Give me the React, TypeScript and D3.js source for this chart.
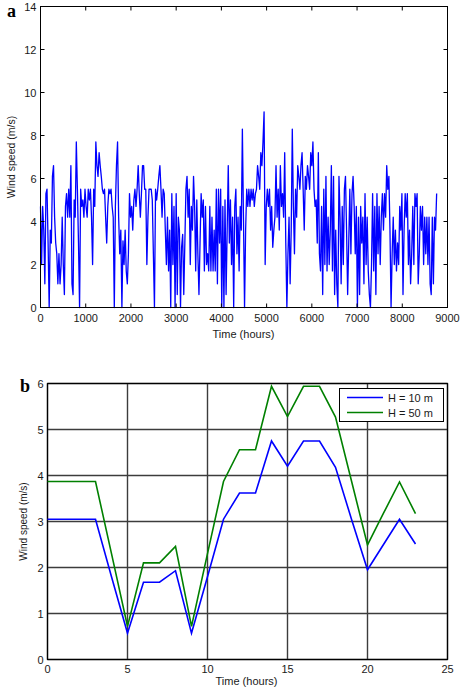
import React from "react";
import * as d3 from "d3";

// wind speed, one reading every 24 h over the year (m/s)
const windDaysA = [
  4.7, 2.0, 4.7, 3.6, 1.1, 5.3, 5.5, 3.0, 0, 3.6,
  3.0, 6.1, 6.6, 4.2, 3.0, 2.5, 1.1, 2.5, 1.1, 2.0,
  4.2, 2.0, 0.6, 4.7, 5.3, 4.2, 5.5, 4.2, 6.6, 1.1,
  0.6, 5.0, 4.2, 7.7, 5.5, 3.0, 0, 5.5, 4.7, 5.0,
  4.2, 5.5, 4.7, 4.2, 5.5, 5.0, 5.5, 4.2, 2.0, 5.5,
  4.7, 7.7, 6.6, 6.1, 7.2, 6.6, 6.1, 5.5, 5.3, 5.5,
  4.2, 3.0, 4.7, 5.5, 5.3, 5.5, 4.7, 4.2, 0, 4.7,
  6.6, 7.7, 4.2, 2.5, 3.6, 0, 3.1, 2.0, 3.6, 1.7,
  1.1, 2.5, 5.3, 4.2, 4.7, 3.6, 5.0, 5.5, 4.7, 5.5,
  6.6, 5.3, 4.2, 5.3, 6.6, 6.6, 5.5, 5.5, 2.0, 4.2,
  5.5, 5.5, 5.5, 5.0, 2.5, 0, 5.5, 5.0, 5.5, 6.1,
  6.6, 5.5, 4.2, 5.5, 5.3, 3.6, 2.0, 4.2, 1.7, 3.6,
  0, 5.3, 2.0, 4.7, 0, 5.3, 0.6, 4.2,
];
const windDaysB = [
  3.6, 0, 2.8, 3.4, 0.6, 3.0, 5.5, 6.1, 4.2, 5.5,
  2.0, 4.7, 3.6, 6.1, 4.7, 1.7, 5.0, 2.5, 0.6, 3.0,
  5.3, 4.2, 5.0, 1.7, 4.7, 2.0, 2.5, 1.7, 4.7, 1.7,
  4.2, 1.7, 3.6, 1.7, 5.5, 1.1, 5.5, 3.0, 5.5, 0,
  4.7, 0, 5.0, 0.6, 3.6, 6.6, 3.0, 5.0, 2.0, 4.2,
  0, 4.7, 5.5, 2.5, 4.2, 1.7, 4.7, 3.6, 8.3, 4.2,
  0, 3.6, 5.5, 4.7, 5.5, 4.7, 5.5, 5.0, 5.5, 4.7,
  5.3, 5.5, 6.6, 6.1, 5.5, 7.2, 6.6, 7.7, 9.1, 2.0,
  4.7, 5.5, 4.7, 5.5, 3.6, 4.7, 2.8, 3.6, 4.2, 6.6,
  4.2, 5.5, 3.6, 6.6, 4.7, 5.3, 4.2, 7.2, 3.0, 0,
  2.5, 4.2, 1.1, 3.6, 8.3, 4.7, 2.5, 5.5, 4.2, 6.6,
  6.1, 5.5, 6.6, 7.2, 5.5, 3.6, 6.1, 5.5, 6.6, 6.1,
  5.5, 7.2, 6.6, 7.7, 5.5,
];
const windDaysC = [
  4.7, 5.0, 3.0, 7.2, 2.5, 1.7, 4.7, 0.6, 5.5, 2.0,
  6.1, 1.7, 4.2, 2.0, 3.6, 6.6, 1.7, 6.1, 0.6, 3.6,
  1.1, 0, 6.1, 4.2, 1.1, 4.7, 2.0, 5.5, 6.1, 3.6,
  0.6, 3.0, 5.5, 2.5, 5.3, 6.1, 4.7, 2.5, 4.7, 0,
  4.2, 0.6, 4.7, 3.0, 4.2, 1.1, 5.3, 2.0, 4.2, 1.7,
  0.6, 0, 2.0, 5.3, 1.7, 4.7, 0.6, 5.3, 2.5, 4.7,
  2.0, 4.2, 5.3, 3.6, 5.3, 4.2, 6.6, 5.5, 6.1, 3.6,
  0, 2.5, 4.2, 2.0, 3.6, 1.7, 3.0, 2.0, 4.7, 3.6,
  5.3, 0.6, 3.6, 5.3, 4.2, 5.3, 2.0, 3.6, 1.1, 2.5,
  4.7, 2.0, 5.3, 4.7, 5.3, 1.1, 2.5, 4.7, 3.6, 4.7,
  2.0, 4.2, 2.5, 4.2, 2.0, 4.2, 1.1, 0.6, 4.2, 1.1,
  4.2, 3.6, 5.3,
];
const hourStep = 24;

// daily profile, panel b
const hoursOfDay = [0, 1, 2, 3, 4, 5, 6, 7, 8, 9, 10, 11, 12, 13, 14, 15, 16, 17, 18, 19, 20, 21, 22, 23];
const speed10m = [3.05, 3.05, 3.05, 3.05, 1.8, 0.57, 1.68, 1.68, 1.93, 0.57, 1.8, 3.05, 3.62, 3.62, 4.75, 4.2, 4.75, 4.75, 4.18, 3.05, 1.95, 2.5, 3.05, 2.51];
const speed50m = [3.87, 3.87, 3.87, 3.87, 2.3, 0.72, 2.1, 2.1, 2.46, 0.72, 2.3, 3.87, 4.56, 4.56, 5.94, 5.28, 5.94, 5.94, 5.27, 3.88, 2.49, 3.18, 3.86, 3.17];
const seriesNames = ["H = 10 m", "H = 50 m"];
const seriesColors = ["#0000ff", "#008000"];

const xTicksA = [0, 1000, 2000, 3000, 4000, 5000, 6000, 7000, 8000, 9000];
const yTicksA = [0, 2, 4, 6, 8, 10, 12, 14];
const xTicksB = [0, 5, 10, 15, 20, 25];
const yTicksB = [0, 1, 2, 3, 4, 5, 6];

const font = "'Liberation Sans', Arial, sans-serif";

function App() {
  const windSpeed = [...windDaysA, ...windDaysB, ...windDaysC];

  // panel a
  const xA = d3.scaleLinear().domain([0, 9000]).range([40.5, 447.5]);
  const yA = d3.scaleLinear().domain([0, 14]).range([307.5, 6.5]);
  const lineA = d3
    .line<number>()
    .x((d, i) => xA(i * hourStep))
    .y((d) => yA(d));

  // panel b
  const xB = d3.scaleLinear().domain([0, 25]).range([47.5, 447.5]);
  const yB = d3.scaleLinear().domain([0, 6]).range([659.5, 383.5]);
  const lineB = d3
    .line<number>()
    .x((d, i) => xB(hoursOfDay[i]))
    .y((d) => yB(d));

  const tk = 4;

  return (
    <div style={{ position: "absolute", left: 0, top: 0 }}>
      <svg width={461} height={691} style={{ display: "block", background: "#fff" }}>
        {/* ---------- a ---------- */}
        <text x={7} y={17} fontFamily="'Liberation Serif', serif" fontWeight="bold" fontSize={18}>a</text>
        <path d={lineA(windSpeed) || ""} fill="none" stroke="#0000ff" strokeWidth={1.3} strokeLinejoin="round" />
        <rect x={xA(0)} y={yA(14)} width={xA(9000) - xA(0)} height={yA(0) - yA(14)} fill="none" stroke="#000" strokeWidth={1} />
        {xTicksA.map((t) => (
          <g key={"xa" + t}>
            <line x1={xA(t)} x2={xA(t)} y1={yA(0)} y2={yA(0) - tk} stroke="#000" />
            <line x1={xA(t)} x2={xA(t)} y1={yA(14)} y2={yA(14) + tk} stroke="#000" />
            <text x={xA(t)} y={yA(0) + 14.5} textAnchor="middle" fontFamily={font} fontSize={11} fill="#1a1a1a">{t}</text>
          </g>
        ))}
        {yTicksA.map((t) => (
          <g key={"ya" + t}>
            <line x1={xA(0)} x2={xA(0) + tk} y1={yA(t)} y2={yA(t)} stroke="#000" />
            <line x1={xA(9000)} x2={xA(9000) - tk} y1={yA(t)} y2={yA(t)} stroke="#000" />
            <text x={xA(0) - 4} y={yA(t) + 4} textAnchor="end" fontFamily={font} fontSize={11} fill="#1a1a1a">{t}</text>
          </g>
        ))}
        <text x={243.5} y={337.5} textAnchor="middle" fontFamily={font} fontSize={11} fill="#1a1a1a">Time (hours)</text>
        <text transform={`translate(15,${(yA(0) + yA(14)) / 2}) rotate(-90)`} textAnchor="middle" fontFamily={font} fontSize={10.5} fill="#1a1a1a">Wind speed (m/s)</text>

        {/* ---------- b ---------- */}
        <text x={20} y={392} fontFamily="'Liberation Serif', serif" fontWeight="bold" fontSize={18}>b</text>
        {xTicksB.map((t) => (
          <line key={"gx" + t} x1={xB(t)} x2={xB(t)} y1={yB(0)} y2={yB(6)} stroke="#3c3c3c" strokeWidth={1.4} />
        ))}
        {yTicksB.map((t) => (
          <line key={"gy" + t} x1={xB(0)} x2={xB(25)} y1={yB(t)} y2={yB(t)} stroke="#3c3c3c" strokeWidth={1.4} />
        ))}
        <rect x={xB(0)} y={yB(6)} width={xB(25) - xB(0)} height={yB(0) - yB(6)} fill="none" stroke="#000" strokeWidth={1.2} />
        {[speed10m, speed50m].map((s, k) => (
          <path key={"s" + k} d={lineB(s) || ""} fill="none" stroke={seriesColors[k]} strokeWidth={1.6} strokeLinejoin="miter" />
        ))}
        {xTicksB.map((t) => (
          <text key={"xb" + t} x={xB(t)} y={yB(0) + 13} textAnchor="middle" fontFamily={font} fontSize={11} fill="#1a1a1a">{t}</text>
        ))}
        {yTicksB.map((t) => (
          <text key={"yb" + t} x={xB(0) - 4} y={yB(t) + 4} textAnchor="end" fontFamily={font} fontSize={11} fill="#1a1a1a">{t}</text>
        ))}
        <text x={246.5} y={685} textAnchor="middle" fontFamily={font} fontSize={11} fill="#1a1a1a">Time (hours)</text>
        <text transform={`translate(27,${(yB(0) + yB(6)) / 2}) rotate(-90)`} textAnchor="middle" fontFamily={font} fontSize={10} fill="#1a1a1a">Wind speed (m/s)</text>

        {/* legend */}
        <rect x={339.5} y={388.5} width={104} height={33} fill="#fff" stroke="#000" strokeWidth={1} />
        {seriesNames.map((n, k) => (
          <g key={n}>
            <line x1={347} x2={383} y1={397.5 + k * 15} y2={397.5 + k * 15} stroke={seriesColors[k]} strokeWidth={1.6} />
            <text x={388} y={401.5 + k * 15} fontFamily={font} fontSize={11} fill="#1a1a1a" style={{ whiteSpace: "pre" }}>{n}</text>
          </g>
        ))}
      </svg>
    </div>
  );
}

export default App;
